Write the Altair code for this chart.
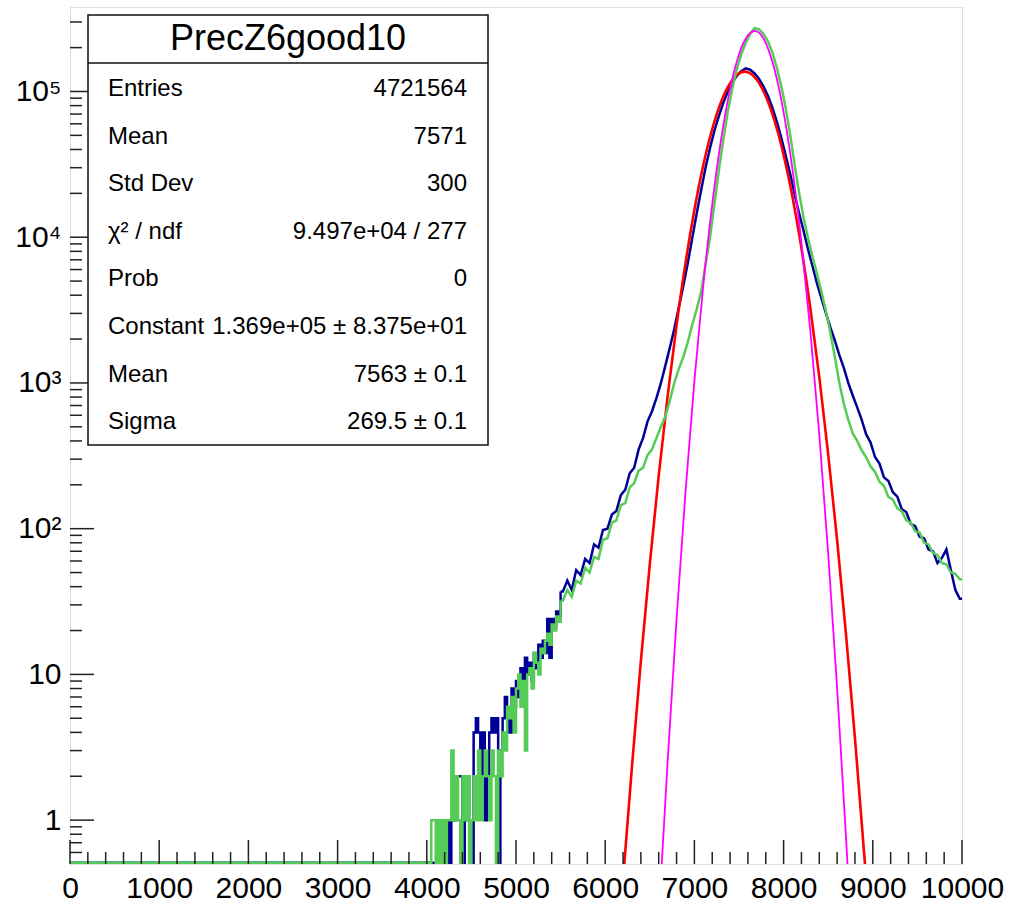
import altair as alt
import pandas as pd

# ---------------- data ----------------
# bin lower edges
X_LOW = list(range(4000, 5500, 25))
X_MAIN = list(range(5500, 10000, 50))

BLUE_LOW = [0, 0, 0, 0, 0, 0, 1, 0, 1, 1,
            0, 1, 1, 2, 2, 2, 0, 1, 2, 1,
            0, 4, 5, 4, 2, 4, 1, 2, 4, 5,
            4, 5, 0, 3, 5, 7, 5, 4, 8, 6,
            9, 7, 11, 8, 13, 10, 12, 9, 14, 11,
            16, 13, 17, 14, 24, 13, 24, 21, 27, 25]
GREEN_LOW = [0, 0, 1, 1, 0, 1, 0, 1, 0, 1,
             1, 3, 1, 2, 1, 0, 2, 1, 2, 0,
             1, 2, 1, 3, 1, 2, 3, 2, 1, 3,
             2, 0, 3, 2, 4, 3, 6, 5, 7, 4,
             8, 10, 6, 9, 3, 10, 11, 8, 14, 12,
             10, 15, 14, 17, 19, 16, 22, 20, 25, 23]
BLUE_MAIN = [37, 44, 38, 52, 48, 62, 58, 78, 74, 98,
             100, 125, 132, 170, 185, 240, 262, 350, 420, 545,
             640, 790, 1000, 1320, 1750, 2350, 3300, 4600, 6600, 9800,
             14500, 21000, 30000, 41000, 54000, 68000, 84000, 100000, 115000, 128000,
             138000, 144000, 141000, 133000, 122000, 108000, 93000, 77000, 62000, 48000,
             36000, 27000, 19500, 14500, 11000, 8200, 6300, 4800, 3800, 3000,
             2400, 1950, 1550, 1270, 1000, 820, 680, 560, 445, 390,
             310, 280, 225, 212, 178, 166, 136, 130, 108, 104,
             88, 86, 72, 70, 58, 63, 72, 52, 38, 33]
GREEN_MAIN = [32, 38, 34, 44, 42, 54, 50, 64, 62, 84,
              86, 110, 114, 145, 150, 192, 205, 250, 262, 320,
              350, 420, 500, 590, 760, 1000, 1250, 1500, 1900, 2500,
              3200, 4200, 6500, 10000, 17000, 29000, 47000, 73000, 105000, 142000,
              180000, 215000, 248000, 272000, 268000, 248000, 220000, 185000, 145000, 108000,
              76000, 50000, 31000, 20000, 13500, 9800, 7300, 5600, 4200, 3100,
              2200, 1500, 1000, 720, 560, 450, 400, 345, 310, 268,
              245, 210, 196, 165, 158, 138, 132, 114, 110, 96,
              94, 80, 78, 68, 66, 58, 57, 50, 49, 45]

# fitted curves (as drawn)
RED_X = [6214, 6300, 6400, 6500, 6600, 6700, 6800, 6900, 7000, 7100, 7200, 7300, 7400,
         7500, 7563, 7600, 7700, 7800, 7900, 8000, 8100, 8200, 8300, 8400, 8500, 8600,
         8700, 8800, 8900, 8912]
RED_Y = [0.5, 2.33, 12.4, 57.2, 231, 812, 2487, 6640, 15450, 31300, 55300, 85100, 114000,
         133200, 136900, 135600, 120300, 92900, 62600, 36750, 18800, 8380, 3254, 1101, 324,
         83.4, 18.7, 3.64, 0.62, 0.5]
MAG_X = [6634, 6700, 6800, 6900, 7000, 7100, 7200, 7300, 7400, 7500, 7600, 7675, 7700,
         7800, 7900, 8000, 8100, 8200, 8300, 8400, 8500, 8600, 8700, 8716]
MAG_Y = [0.5, 2.54, 24, 178, 1033, 4710, 16800, 47200, 103800, 179400, 242700, 260000,
         258200, 215100, 140600, 72200, 29100, 9180, 2270, 442, 67.3, 8.05, 0.755, 0.5]

# axis ticks
X_LABELS = list(range(0, 10001, 1000))
X_MINOR = [v for v in range(200, 10000, 200) if v % 1000 != 0]
Y_LABELS = [1, 10, 100, 1000, 10000, 100000]
Y_MINOR = [0.6, 0.7, 0.8, 0.9] + [m * 10 ** k for k in range(0, 5) for m in range(2, 10)] + [200000, 300000]

# statistics box
STAT_TITLE = "PrecZ6good10"
STAT_NAMES = ["Entries", "Mean", "Std Dev", "χ² / ndf", "Prob", "Constant", "Mean", "Sigma"]
STAT_VALUES = ["4721564", "7571", "300", "9.497e+04 / 277", "0",
               "1.369e+05 ± 8.375e+01", "7563 ± 0.1", "269.5 ± 0.1"]

# ---------------- chart ----------------
FONT = "Liberation Sans"
W, H = 892, 857
FLOOR = 0.51

xscale = alt.Scale(domain=[0, 10000], nice=False, zero=False)
yscale = alt.Scale(type="log", domain=[0.5, 3.8e5], nice=False)

x_axis = alt.Axis(values=X_LABELS, format="d", ticks=False, tickSize=0, domain=False, grid=False,
                  labelFont=FONT, labelFontSize=30, labelColor="black", labelPadding=9,
                  labelFlush=False, labelOverlap=False, title=None)
y_axis = alt.Axis(values=Y_LABELS, ticks=False, tickSize=0, domain=False, grid=False,
                  labelFont=FONT, labelFontSize=30, labelColor="black", labelPadding=9,
                  labelOverlap=False,
                  labelExpr="datum.value == 1 ? '1' : datum.value == 10 ? '10' : "
                            "datum.value == 100 ? '10²' : datum.value == 1000 ? '10³' : "
                            "datum.value == 10000 ? '10⁴' : '10⁵'",
                  title=None)

low_edges = [0] + X_LOW + [X_MAIN[0]]
HALF_MAIN = (X_MAIN[1] - X_MAIN[0]) / 2


def hist(low, main, color):
    df_low = pd.DataFrame({"x": low_edges, "count": [0] + low + [main[0]]})
    df_main = pd.DataFrame({"x": [X_MAIN[0] - HALF_MAIN] + X_MAIN + [10000 - HALF_MAIN],
                            "count": [main[0]] + main + [main[-1]]})
    step = alt.Chart(df_low).transform_calculate(
        c=f"max(datum.count, {FLOOR})"
    ).mark_line(interpolate="step-after", color=color, strokeWidth=2.5, clip=True).encode(
        x=alt.X("x:Q", scale=xscale, axis=x_axis),
        y=alt.Y("c:Q", scale=yscale, axis=y_axis),
    )
    smooth = alt.Chart(df_main).transform_calculate(
        c=f"max(datum.count, {FLOOR})",
        xc=f"datum.x + {HALF_MAIN}",
    ).mark_line(interpolate="linear", color=color, strokeWidth=2.5, clip=True).encode(
        x=alt.X("xc:Q", scale=xscale, axis=x_axis),
        y=alt.Y("c:Q", scale=yscale, axis=y_axis),
    )
    return [step, smooth]


def curve(df, color, width):
    return alt.Chart(df).mark_line(interpolate="monotone", color=color, strokeWidth=width,
                                   clip=True).encode(
        x=alt.X("x:Q", scale=xscale, axis=x_axis),
        y=alt.Y("y:Q", scale=yscale, axis=y_axis),
    )


blue = hist(BLUE_LOW, BLUE_MAIN, "#000099")
green = hist(GREEN_LOW, GREEN_MAIN, "#55cc55")
red = curve(pd.DataFrame({"x": RED_X, "y": RED_Y}), "#ff0000", 2.6)
mag = curve(pd.DataFrame({"x": MAG_X, "y": MAG_Y}), "#ff00ff", 1.8)

TICK = "#222222"
ytick_major = alt.Chart(pd.DataFrame({"v": Y_LABELS})).mark_rule(color=TICK, strokeWidth=1.5).encode(
    y=alt.Y("v:Q", scale=yscale, axis=y_axis), x=alt.value(0), x2=alt.value(24))
ytick_minor = alt.Chart(pd.DataFrame({"v": Y_MINOR})).mark_rule(color=TICK, strokeWidth=1.5).encode(
    y=alt.Y("v:Q", scale=yscale, axis=y_axis), x=alt.value(0), x2=alt.value(12))
xtick_major = alt.Chart(pd.DataFrame({"v": X_LABELS})).mark_rule(color=TICK, strokeWidth=1.5).encode(
    x=alt.X("v:Q", scale=xscale, axis=x_axis), y=alt.value(H), y2=alt.value(H - 24))
xtick_minor = alt.Chart(pd.DataFrame({"v": X_MINOR})).mark_rule(color=TICK, strokeWidth=1.5).encode(
    x=alt.X("v:Q", scale=xscale, axis=x_axis), y=alt.value(H), y2=alt.value(H - 12))

one = pd.DataFrame({"a": [0]})
box = alt.Chart(one).mark_rect(fill="white", stroke="#111111", strokeWidth=1.5).encode(
    x=alt.value(18), x2=alt.value(418), y=alt.value(8), y2=alt.value(438))
sep = alt.Chart(one).mark_rule(color="#111111", strokeWidth=1.5).encode(
    x=alt.value(18), x2=alt.value(418), y=alt.value(56))
title = alt.Chart(one).mark_text(font=FONT, fontSize=36, color="black", align="center",
                                 baseline="middle").encode(
    x=alt.value(218), y=alt.value(32), text=alt.value(STAT_TITLE))

texts = []
for i, (name, val) in enumerate(zip(STAT_NAMES, STAT_VALUES)):
    yy = 82 + 47.6 * i
    texts.append(alt.Chart(one).mark_text(font=FONT, fontSize=24, color="black", align="left",
                                          baseline="middle").encode(
        x=alt.value(38), y=alt.value(yy), text=alt.value(name)))
    texts.append(alt.Chart(one).mark_text(font=FONT, fontSize=24, color="black", align="right",
                                          baseline="middle").encode(
        x=alt.value(397), y=alt.value(yy), text=alt.value(val)))

chart = alt.layer(
    *blue, red, *green, mag,
    ytick_major, ytick_minor, xtick_major, xtick_minor,
    box, sep, title, *texts
).properties(
    width=W, height=H,
    autosize=alt.AutoSizeParams(type="none"),
    padding={"left": 70, "top": 7, "right": 51, "bottom": 40},
).configure_view(
    stroke="#222222", strokeWidth=1.5
).configure(background="white")

chart.save("out.html", embed_options={"renderer": "svg", "actions": False})
